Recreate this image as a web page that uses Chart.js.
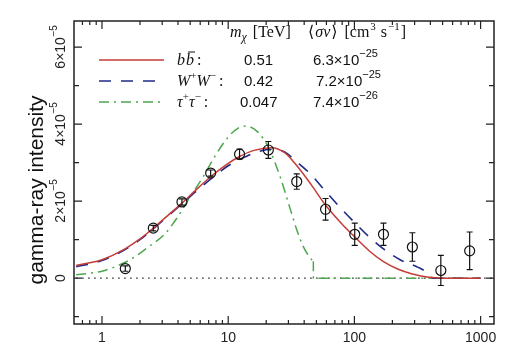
<!DOCTYPE html>
<html lang="en">
<head>
<meta charset="UTF-8">
<title>gamma-ray intensity</title>
<script src="https://cdn.jsdelivr.net/npm/chart.js"></script>
<style>
  body { margin: 0; background: #fff; }
  #wrap { width: 510px; height: 360px; }
</style>
</head>
<body>
<div id="wrap"><canvas id="gammaChart" width="510" height="360"></canvas></div>
<script>
// energies in GeV, intensities in units of 1e-5
var dataE   = [1.53, 2.55, 4.3, 7.26, 12.3, 20.8, 34.9, 59.1, 100.6, 170, 288, 484, 819];
var dataI   = [0.25, 1.30, 1.98, 2.73, 3.22, 3.33, 2.51, 1.79, 1.14, 1.14, 0.81, 0.20, 0.71];
var dataErr = [0.07, 0.07, 0.08, 0.08, 0.13, 0.22, 0.20, 0.28, 0.29, 0.29, 0.37, 0.39, 0.49];

var bbE = [0.624, 0.8, 1, 1.5, 2, 2.55, 3.3, 4.3, 5.5, 7.3, 10, 12.3, 16, 22, 28, 35, 45, 59, 80, 100, 130, 170, 220, 288, 375, 510, 1000];
var bbI = [0.33, 0.40, 0.48, 0.75, 1.02, 1.30, 1.62, 1.95, 2.28, 2.64, 2.98, 3.16, 3.32, 3.39, 3.26, 2.92, 2.45, 1.90, 1.40, 1.08, 0.72, 0.43, 0.24, 0.11, 0.03, 0, 0];

var wwE = [0.624, 0.8, 1, 1.5, 2, 2.55, 3.3, 4.3, 5.5, 7.3, 10, 12.3, 16, 22, 28, 35, 45, 59, 80, 100, 130, 170, 230, 320, 380, 420, 1000];
var wwI = [0.30, 0.37, 0.46, 0.73, 1.00, 1.28, 1.60, 1.93, 2.24, 2.58, 2.92, 3.08, 3.25, 3.35, 3.28, 3.02, 2.70, 2.26, 1.78, 1.45, 1.08, 0.76, 0.48, 0.28, 0.14, 0, 0];

var ttE = [0.624, 0.8, 1, 1.5, 1.83, 2.26, 3.15, 3.9, 4.96, 6.3, 7.8, 9.9, 12, 13.9, 17.1, 21.2, 26, 31, 35, 39, 44, 47.3];
var ttI = [0.09, 0.13, 0.18, 0.40, 0.56, 0.78, 1.15, 1.55, 2.10, 2.62, 3.15, 3.65, 3.90, 3.95, 3.80, 3.35, 2.60, 1.80, 1.25, 0.85, 0.55, 0.44];
var ttTailE = [47.3, 47.3, 1000];
var ttTailI = [0.44, 0, 0];

var xMin = 0.624, xMax = 1277;
var yMin = -1.19, yMax = 6.68;
var xTickLabels = [1, 10, 100, 1000];
var yTickLabels = [0, 2, 4, 6];

var SANS = '"Liberation Sans", Arial, sans-serif';
var SERIF = '"Liberation Serif", "DejaVu Serif", serif';

function pts(xs, ys) {
  return xs.map(function (x, i) { return { x: x, y: ys[i] }; });
}

var errorBars = {
  id: 'errorBars',
  afterDatasetsDraw: function (chart) {
    var ctx = chart.ctx, xs = chart.scales.x, ys = chart.scales.y;
    ctx.save();
    ctx.strokeStyle = '#111';
    ctx.lineWidth = 1.2;
    ctx.beginPath();
    for (var i = 0; i < dataE.length; i++) {
      var px = xs.getPixelForValue(dataE[i]);
      var lo = ys.getPixelForValue(dataI[i] - dataErr[i]);
      var hi = ys.getPixelForValue(dataI[i] + dataErr[i]);
      ctx.moveTo(px, lo); ctx.lineTo(px, hi);
      ctx.moveTo(px - 3, lo); ctx.lineTo(px + 3, lo);
      ctx.moveTo(px - 3, hi); ctx.lineTo(px + 3, hi);
    }
    ctx.stroke();
    ctx.restore();
  }
};

function rich(ctx, x, y, parts) {
  parts.forEach(function (p) {
    ctx.font = p.f;
    var w = ctx.measureText(p.t).width;
    ctx.fillText(p.t, x, y + (p.dy || 0));
    if (p.bar) {
      ctx.beginPath();
      ctx.moveTo(x + 2, y - 13); ctx.lineTo(x + w + 1, y - 13);
      ctx.stroke();
    }
    x += w + (p.gap || 0);
  });
}

var frame = {
  id: 'frame',
  afterDraw: function (chart) {
    var a = chart.chartArea, ctx = chart.ctx, xs = chart.scales.x, ys = chart.scales.y;
    ctx.save();
    ctx.strokeStyle = '#222';
    ctx.lineWidth = 1.5;
    ctx.strokeRect(a.left, a.top, a.right - a.left, a.bottom - a.top);

    // inward ticks on all four sides
    ctx.lineWidth = 1.2;
    ctx.beginPath();
    for (var k = -1; k <= 3; k++) {
      for (var m = 1; m <= 9; m++) {
        var v = m * Math.pow(10, k);
        if (v < xMin || v > xMax) continue;
        var px = xs.getPixelForValue(v), len = m === 1 ? 8 : 4;
        ctx.moveTo(px, a.bottom); ctx.lineTo(px, a.bottom - len);
        ctx.moveTo(px, a.top); ctx.lineTo(px, a.top + len);
      }
    }
    for (var t = -1; t <= 6; t++) {
      var py = ys.getPixelForValue(t), ylen = t % 2 === 0 ? 8 : 5;
      ctx.moveTo(a.left, py); ctx.lineTo(a.left + ylen, py);
      ctx.moveTo(a.right, py); ctx.lineTo(a.right - ylen, py);
    }
    ctx.stroke();

    // rotated y tick labels
    ctx.fillStyle = '#222';
    ctx.textBaseline = 'middle';
    yTickLabels.forEach(function (val) {
      var py = ys.getPixelForValue(val);
      ctx.save();
      ctx.translate(61, py);
      ctx.rotate(-Math.PI / 2);
      if (val === 0) {
        ctx.font = '14px ' + SANS;
        ctx.textAlign = 'center';
        ctx.fillText('0', 0, 0);
      } else {
        var base = val + '\u00d710', sup = '\u22125';
        ctx.font = '14px ' + SANS;
        var wb = ctx.measureText(base).width;
        ctx.font = '10px ' + SANS;
        var ws = ctx.measureText(sup).width;
        var x0 = -(wb + ws) / 2;
        ctx.textAlign = 'left';
        ctx.font = '14px ' + SANS;
        ctx.fillText(base, x0, 0);
        ctx.font = '10px ' + SANS;
        ctx.fillText(sup, x0 + wb + 0.5, -7);
      }
      ctx.restore();
    });

    // y axis title
    ctx.save();
    ctx.translate(43, 190);
    ctx.rotate(-Math.PI / 2);
    ctx.textAlign = 'center';
    ctx.textBaseline = 'alphabetic';
    ctx.font = '21px ' + SANS;
    ctx.fillStyle = '#111';
    ctx.fillText('gamma-ray intensity', 0, 0);
    ctx.restore();

    // legend table
    ctx.textAlign = 'left';
    ctx.textBaseline = 'alphabetic';
    ctx.fillStyle = '#111';
    ctx.strokeStyle = '#111';
    ctx.lineWidth = 1;
    var it = 'italic 16px ' + SERIF, rm = '16px ' + SERIF, sm = '11px ' + SERIF;
    var num = '15px ' + SANS, numSup = '11px ' + SANS;
    var ang = '16px "DejaVu Serif", serif';
    rich(ctx, 230, 37, [{ t: 'm', f: it }, { t: '\u03c7', f: 'italic 12px ' + SERIF, dy: 4, gap: 2 }, { t: ' [TeV]', f: rm }]);
    rich(ctx, 308, 37, [{ t: '\u27e8', f: ang, gap: 1 }, { t: '\u03c3v', f: it, gap: 1 },
      { t: '\u27e9', f: ang, gap: 3 }, { t: ' [cm', f: rm, gap: 1 }, { t: '3', f: sm, dy: -7, gap: 1 },
      { t: ' s', f: rm, gap: 1 }, { t: '\u22121', f: sm, dy: -7, gap: 1 }, { t: ']', f: rm }]);

    var rows = [
      { y: 60, label: [{ t: 'b', f: it, gap: 1 }, { t: 'b', f: it, bar: true, gap: 3 }, { t: ':', f: rm }], mx: '0.51', mxX: 244, sv: '6.3', svX: 313, ex: '\u221225' },
      { y: 81, label: [{ t: 'W', f: it }, { t: '+', f: sm, dy: -7 }, { t: 'W', f: it }, { t: '\u2212', f: sm, dy: -7, gap: 3 }, { t: ':', f: rm }], mx: '0.42', mxX: 244, sv: '7.2', svX: 316, ex: '\u221225' },
      { y: 102, label: [{ t: '\u03c4', f: it }, { t: '+', f: sm, dy: -7 }, { t: '\u03c4', f: it }, { t: '\u2212', f: sm, dy: -7, gap: 3 }, { t: ':', f: rm }], mx: '0.047', mxX: 240, sv: '7.4', svX: 313, ex: '\u221226' }
    ];
    var lineSets = [chart.data.datasets[1], chart.data.datasets[2], chart.data.datasets[3]];
    rows.forEach(function (r, i) {
      var ds = lineSets[i];
      ctx.save();
      ctx.strokeStyle = ds.borderColor;
      ctx.lineWidth = ds.borderWidth;
      ctx.setLineDash(ds.borderDash || []);
      ctx.beginPath();
      ctx.moveTo(99, r.y); ctx.lineTo(164, r.y);
      ctx.stroke();
      ctx.restore();
      var by = r.y + 5;
      rich(ctx, 177, by, r.label);
      rich(ctx, r.mxX, by, [{ t: r.mx, f: num }]);
      rich(ctx, r.svX, by, [{ t: r.sv + '\u00d710', f: num }, { t: r.ex, f: numSup, dy: -8 }]);
    });
    ctx.restore();
  }
};

var ctx = document.getElementById('gammaChart').getContext('2d');
var gammaChart = new Chart(ctx, {
  type: 'scatter',
  data: {
    datasets: [
      {
        data: pts(dataE, dataI), showLine: false, order: 0,
        pointRadius: 5, pointBorderWidth: 1.2, pointBorderColor: '#111',
        pointBackgroundColor: 'rgba(0,0,0,0)'
      },
      {
        data: pts(bbE, bbI), showLine: true, order: 1, pointRadius: 0,
        borderColor: '#c43c35', borderWidth: 1.5, cubicInterpolationMode: 'monotone'
      },
      {
        data: pts(wwE, wwI), showLine: true, order: 2, pointRadius: 0,
        borderColor: '#1f2a88', borderWidth: 1.6, borderDash: [12, 10], cubicInterpolationMode: 'monotone'
      },
      {
        data: pts(ttE, ttI), showLine: true, order: 3, pointRadius: 0,
        borderColor: '#4ea64e', borderWidth: 1.5, borderDash: [10, 5, 2, 5], cubicInterpolationMode: 'monotone'
      },
      {
        data: pts(ttTailE, ttTailI), showLine: true, order: 3, pointRadius: 0,
        borderColor: '#4ea64e', borderWidth: 1.5, borderDash: [10, 5, 2, 5]
      },
      {
        data: pts([xMin, xMax], [0, 0]), showLine: true, order: 5, pointRadius: 0,
        borderColor: '#222', borderWidth: 1.2, borderDash: [1.5, 4.5]
      }
    ]
  },
  options: {
    responsive: false,
    animation: false,
    layout: { padding: { top: 21, right: 16, left: 0, bottom: 0 } },
    plugins: { legend: { display: false }, tooltip: { enabled: false } },
    scales: {
      x: {
        type: 'logarithmic', min: xMin, max: xMax,
        grid: { display: false, drawTicks: false },
        border: { display: false },
        afterBuildTicks: function (s) {
          s.ticks = xTickLabels.map(function (v) { return { value: v }; });
        },
        ticks: {
          autoSkip: false, maxRotation: 0, padding: 6, color: '#222',
          font: { family: SANS, size: 14 },
          callback: function (v) { return String(v); }
        },
        afterFit: function (s) { s.height = 36; }
      },
      y: {
        min: yMin, max: yMax,
        grid: { display: false, drawTicks: false },
        border: { display: false },
        ticks: { display: false },
        afterFit: function (s) { s.width = 74; }
      }
    }
  },
  plugins: [errorBars, frame]
});
</script>
</body>
</html>
